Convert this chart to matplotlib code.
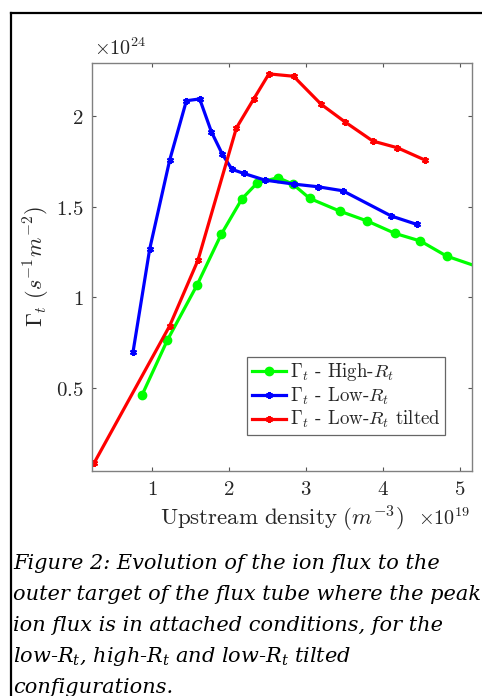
import matplotlib
matplotlib.use("Agg")
import matplotlib.pyplot as plt
from matplotlib.lines import Line2D

plt.rcParams['mathtext.fontset'] = 'cm'
plt.rcParams['mathtext.it'] = 'DejaVu Serif:italic'
plt.rcParams['mathtext.rm'] = 'DejaVu Serif'

# ---- data (x in 1e19 m^-3, y in 1e24 s^-1 m^-2) ----
high_x = [0.87, 1.20, 1.585, 1.90, 2.17, 2.37, 2.64, 2.83, 3.05, 3.44, 3.80, 4.16, 4.49, 4.83, 5.30]
high_y = [0.462, 0.765, 1.068, 1.348, 1.544, 1.632, 1.66, 1.625, 1.546, 1.476, 1.421, 1.353, 1.311, 1.228, 1.16]

low_x = [0.753, 0.97, 1.23, 1.447, 1.62, 1.772, 1.915, 2.04, 2.19, 2.466, 2.84, 3.16, 3.48, 4.11, 4.44]
low_y = [0.699, 1.267, 1.757, 2.084, 2.094, 1.913, 1.789, 1.706, 1.684, 1.647, 1.625, 1.61, 1.588, 1.449, 1.403]

tilt_x = [0.246, 1.23, 1.598, 2.097, 2.32, 2.52, 2.84, 3.20, 3.51, 3.87, 4.19, 4.55]
tilt_y = [0.087, 0.844, 1.206, 1.934, 2.092, 2.232, 2.219, 2.064, 1.967, 1.862, 1.825, 1.757]

x_ticks = [1, 2, 3, 4, 5]
x_tick_labels = ['1', '2', '3', '4', '5']
y_ticks = [0.5, 1.0, 1.5, 2.0]
y_tick_labels = ['0.5', '1', '1.5', '2']

legend_labels = [r'$\Gamma_t$ - High-$R_t$', r'$\Gamma_t$ - Low-$R_t$', r'$\Gamma_t$ - Low-$R_t$ tilted']

caption_lines = ["Figure 2: Evolution of the ion flux to the",
                 "outer target of the flux tube where the peak",
                 "ion flux is in attached conditions, for the",
                 "low-$R_t$, high-$R_t$ and low-$R_t$ tilted",
                 "configurations."]

W, H = 482, 696
fig = plt.figure(figsize=(W / 100, H / 100), dpi=100)

# outer frame (left and top edges visible)
fig.add_artist(Line2D([11 / W, 11 / W], [1 - 13 / H, 0], color='black', lw=1.6, transform=fig.transFigure))
fig.add_artist(Line2D([11 / W, 1.0], [1 - 13 / H, 1 - 13 / H], color='black', lw=1.6, transform=fig.transFigure))

ax = fig.add_axes([92 / W, 1 - 471 / H, 380 / W, 408 / H])

lw = 2.3
ax.plot(high_x, high_y, color='#00ff00', lw=lw, marker='o', ms=6, label=legend_labels[0])
ax.plot(low_x, low_y, color='#0000ff', lw=lw, marker=(6, 2, 0), ms=5, mew=1.5, label=legend_labels[1])
ax.plot(tilt_x, tilt_y, color='#ff0000', lw=lw, marker=(6, 2, 0), ms=5, mew=1.5, label=legend_labels[2])

ax.set_xlim(0.22, 5.16)
ax.set_ylim(0.044, 2.292)

tick_col = '#262626'
ax.set_xticks(x_ticks, labels=['$' + s + '$' for s in x_tick_labels])
ax.set_yticks(y_ticks, labels=['$' + s + '$' for s in y_tick_labels])
ax.tick_params(direction='in', top=True, right=True, length=3, width=0.8,
               color='#555555', labelcolor=tick_col, labelsize=15, pad=6)
for s in ax.spines.values():
    s.set_color('#808080')
    s.set_linewidth(1.0)

ax.set_xlabel(r'$\mathrm{Upstream\ density}\ (m^{-3})$', fontsize=16.5, color=tick_col, labelpad=3)
ax.set_ylabel(r'$\Gamma_t\ (s^{-1}m^{-2})$', fontsize=16, color=tick_col, labelpad=3)

fig.text(418 / W, 1 - 525 / H, r'$\times10^{19}$', fontsize=14.5, color=tick_col, va='baseline', ha='left')
fig.text(94 / W, 1 - 55 / H, r'$\times10^{24}$', fontsize=14.5, color=tick_col, va='baseline', ha='left')

leg = ax.legend(loc='lower right', bbox_to_anchor=(0.929, 0.088), borderaxespad=0,
                fontsize=13.6, frameon=True, fancybox=False, handlelength=1.8,
                handletextpad=0.2, borderpad=0.25, labelspacing=0.12)
leg.get_frame().set_edgecolor('#404040')
leg.get_frame().set_linewidth(0.9)
for t in leg.get_texts():
    t.set_family('cmr10')
    t.set_color(tick_col)

base0, step = 569, 31
for i, line in enumerate(caption_lines):
    fig.text(13 / W, 1 - (base0 + i * step) / H, line, fontsize=15, family='DejaVu Serif',
             style='italic', va='baseline', ha='left', math_fontfamily='custom', color='#000000')

fig.savefig('out.png', dpi=100)
